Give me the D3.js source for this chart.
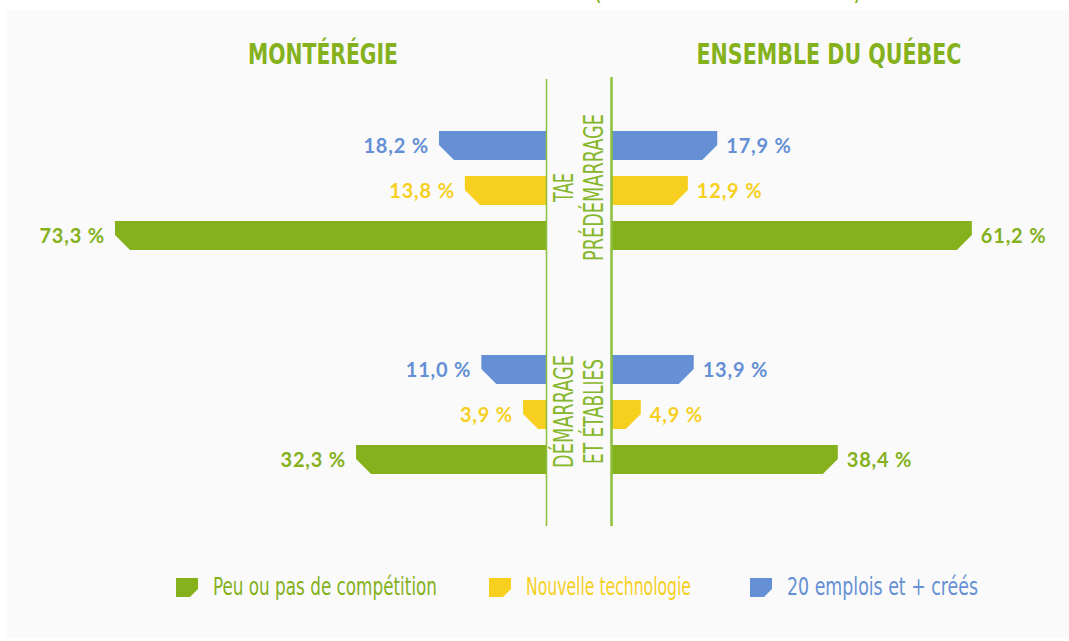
<!DOCTYPE html>
<html>
<head>
<meta charset="utf-8">
<script src="https://cdn.jsdelivr.net/npm/d3@7"></script>
<style>
  html, body { margin: 0; padding: 0; background: #ffffff; }
  svg { display: block; }
</style>
</head>
<body>
<svg id="chart" width="1069" height="641"></svg>
<script>
// ---------- DATA ----------
const regions = ["MONTÉRÉGIE", "ENSEMBLE DU QUÉBEC"];
const stages = ["TAE PRÉDÉMARRAGE", "DÉMARRAGE ET ÉTABLIES"];
const stageLines = [["TAE", "PRÉDÉMARRAGE"], ["DÉMARRAGE", "ET ÉTABLIES"]];
const seriesNames = ["Peu ou pas de compétition", "Nouvelle technologie", "20 emplois et + créés"];
const seriesColors = ["#84b11c", "#f7d01f", "#6590d6"];

// values per stage: [TAE prédémarrage, démarrage et établies]
const competitionMonteregie = [73.3, 32.3];
const competitionQuebec     = [61.2, 38.4];
const technologieMonteregie = [13.8, 3.9];
const technologieQuebec     = [12.9, 4.9];
const emploisMonteregie     = [18.2, 11.0];
const emploisQuebec         = [17.9, 13.9];

// ---------- BUILD ----------
const valuesBySeries = [
  { left: competitionMonteregie, right: competitionQuebec },
  { left: technologieMonteregie, right: technologieQuebec },
  { left: emploisMonteregie, right: emploisQuebec }
];
const rows = [];
stages.forEach((st, si) => {
  seriesNames.forEach((s, k) => {
    rows.push({ stage: st, series: s, k: k,
      left: valuesBySeries[k].left[si], right: valuesBySeries[k].right[si] });
  });
});

const svg = d3.select("#chart");
const green = "#84b11c";
const lineGreen = "#8dbf3c";

// background panel
svg.append("rect").attr("x", 7).attr("y", 10).attr("width", 1062).attr("height", 628)
  .attr("fill", "#fafafa");

// partially visible heading parentheses at the very top
svg.append("text").attr("x", 593).attr("y", -1).attr("fill", green)
  .style("font-family", "'Liberation Sans Narrow','DejaVu Sans Condensed',sans-serif")
  .style("font-size", "26px").text("(");
svg.append("text").attr("x", 853).attr("y", -1).attr("fill", green)
  .style("font-family", "'Liberation Sans Narrow','DejaVu Sans Condensed',sans-serif")
  .style("font-size", "26px").text(")");

// scales
const xLeft = d3.scaleLinear().domain([0, 100]).range([546, 546 - 588]);
const xRight = d3.scaleLinear().domain([0, 100]).range([612, 612 + 588]);
const yStage = d3.scaleBand().domain(stages).range([131, 579]);
const order = [seriesNames[2], seriesNames[1], seriesNames[0]];
const yInner = d3.scaleBand().domain(order).range([0, 119]).paddingInner(16 / 45).paddingOuter(0);
const h = yInner.bandwidth();
const ch = 15;

function leftPath(d) {
  const y = yStage(d.stage) + yInner(d.series);
  const x0 = xLeft(0), x1 = xLeft(d.left);
  const c = Math.min(ch, x0 - x1);
  return `M${x0},${y}L${x1},${y}L${x1},${y + h - c}L${x1 + c},${y + h}L${x0},${y + h}Z`;
}
function rightPath(d) {
  const y = yStage(d.stage) + yInner(d.series);
  const x0 = xRight(0), x1 = xRight(d.right);
  const c = Math.min(ch, x1 - x0);
  return `M${x0},${y}L${x1},${y}L${x1},${y + h - c}L${x1 - c},${y + h}L${x0},${y + h}Z`;
}

svg.append("g").selectAll("path").data(rows).join("path")
  .attr("d", leftPath).attr("fill", d => seriesColors[d.k]);
svg.append("g").selectAll("path").data(rows).join("path")
  .attr("d", rightPath).attr("fill", d => seriesColors[d.k]);

const fmt = v => d3.format(".1f")(v).replace(".", ",") + " %";
const labelFont = "Lato, 'Open Sans', sans-serif";

svg.append("g").selectAll("text").data(rows).join("text")
  .attr("x", d => xLeft(d.left) - 10)
  .attr("y", d => yStage(d.stage) + yInner(d.series) + h / 2)
  .attr("dy", "0.36em")
  .attr("text-anchor", "end")
  .attr("fill", d => seriesColors[d.k])
  .style("font-family", labelFont).style("font-weight", "700")
  .style("font-size", "20px").style("letter-spacing", "0.8px")
  .text(d => fmt(d.left));

svg.append("g").selectAll("text").data(rows).join("text")
  .attr("x", d => xRight(d.right) + 9)
  .attr("y", d => yStage(d.stage) + yInner(d.series) + h / 2)
  .attr("dy", "0.36em")
  .attr("text-anchor", "start")
  .attr("fill", d => seriesColors[d.k])
  .style("font-family", labelFont).style("font-weight", "700")
  .style("font-size", "20px").style("letter-spacing", "0.8px")
  .text(d => fmt(d.right));

// vertical lines
svg.append("line").attr("x1", 546.5).attr("x2", 546.5).attr("y1", 79).attr("y2", 526)
  .attr("stroke", lineGreen).attr("stroke-width", 1.5);
svg.append("line").attr("x1", 611.5).attr("x2", 611.5).attr("y1", 77).attr("y2", 526)
  .attr("stroke", lineGreen).attr("stroke-width", 2.5);

// region titles
const condensed = "'Liberation Sans Narrow','DejaVu Sans Condensed',sans-serif";
const titleX = [323, 829];
const titleLen = [150, 265];
svg.append("g").selectAll("text").data(regions).join("text")
  .attr("x", (d, i) => titleX[i]).attr("y", 64)
  .attr("text-anchor", "middle")
  .attr("textLength", (d, i) => titleLen[i]).attr("lengthAdjust", "spacingAndGlyphs")
  .attr("fill", green)
  .style("font-family", condensed).style("font-weight", "700").style("font-size", "28px")
  .text(d => d);

// stage labels (rotated)
const stageLens = [[29, 147], [113, 105]];
const baseX = [573, 603];
stages.forEach((st, si) => {
  const cy = yStage(st) + 119 / 2 - 3;
  stageLines[si].forEach((t, li) => {
    svg.append("text")
      .attr("transform", `translate(${baseX[li]},${cy}) rotate(-90)`)
      .attr("text-anchor", "middle")
      .attr("textLength", stageLens[si][li]).attr("lengthAdjust", "spacingAndGlyphs")
      .attr("fill", "#86b62a")
      .style("font-family", condensed).style("font-size", "27px")
      .text(t);
  });
});

// legend
const legX = [176, 489, 750];
const legLen = [224, 165, 191];
const lg = svg.append("g").selectAll("g").data(seriesNames).join("g");
lg.append("path")
  .attr("d", (d, i) => {
    const x = legX[i], y = 578, w = 22, hh = 19, c = 8;
    return `M${x},${y}L${x + w},${y}L${x + w},${y + hh - c}L${x + w - c},${y + hh}L${x},${y + hh}Z`;
  })
  .attr("fill", (d, i) => seriesColors[i]);
lg.append("text")
  .attr("x", (d, i) => legX[i] + 37).attr("y", 595)
  .attr("textLength", (d, i) => legLen[i]).attr("lengthAdjust", "spacingAndGlyphs")
  .attr("fill", (d, i) => seriesColors[i])
  .style("font-family", condensed).style("font-size", "24px")
  .text(d => d);
</script>
</body>
</html>
